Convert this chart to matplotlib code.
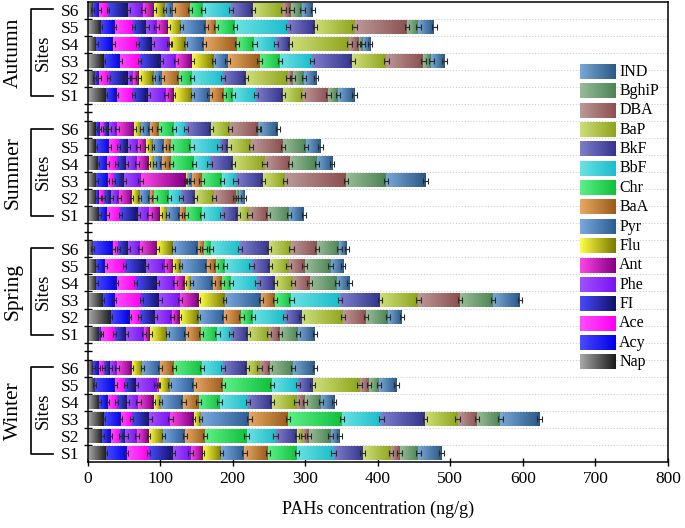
import numpy as np
import matplotlib
matplotlib.use("Agg")
import matplotlib.pyplot as plt
from matplotlib.colors import to_rgb
from matplotlib.transforms import blended_transform_factory

plt.rcParams["font.family"] = ["Liberation Serif", "DejaVu Serif"]

# ---------------------------------------------------------------------------
# Data (ng/g), order of compounds from bar start to bar end
# ---------------------------------------------------------------------------
compounds = ["Nap", "Acy", "Ace", "FI", "Phe", "Ant", "Flu", "Pyr",
             "BaA", "Chr", "BbF", "BkF", "BaP", "DBA", "BghiP", "IND"]
sites = ["S1", "S2", "S3", "S4", "S5", "S6"]
seasons = ["Winter", "Spring", "Summer", "Autumn"]

# rows: S1 .. S6
winter = [
    [25, 29, 30, 34, 24, 17, 25, 32, 33, 40, 50, 40, 39, 12, 26, 32],
    [20, 12, 13, 7, 16, 16, 20, 30, 28, 57, 40, 30, 8, 8, 30, 12],
    [22, 24, 15, 24, 29, 32, 10, 67, 53, 75, 54, 60, 45, 27, 32, 54],
    [16, 12, 12, 14, 16, 21, 10, 31, 21, 29, 39, 33, 34, 12, 22, 18],
    [10, 28, 14, 14, 29, 3, 15, 34, 40, 67, 36, 20, 65, 13, 14, 24],
    [8, 7, 7, 9, 9, 21, 14, 25, 19, 39, 29, 33, 17, 14, 32, 30],
]
spring = [
    [16, 3, 18, 16, 25, 8, 24, 26, 20, 23, 19, 23, 29, 15, 25, 23],
    [32, 26, 14, 21, 23, 11, 26, 35, 24, 16, 44, 23, 57, 32, 30, 19],
    [21, 16, 37, 25, 28, 26, 36, 50, 19, 23, 67, 55, 53, 57, 46, 37],
    [12, 28, 26, 29, 25, 14, 9, 30, 12, 13, 36, 24, 25, 23, 38, 17],
    [12, 12, 27, 29, 26, 12, 10, 37, 12, 12, 37, 25, 26, 22, 36, 17],
    [7, 28, 7, 14, 16, 24, 22, 34, 9, 9, 40, 40, 31, 35, 31, 11],
]
summer = [
    [16, 11, 18, 24, 16, 15, 10, 17, 9, 22, 27, 22, 16, 26, 29, 20],
    [12, 4, 6, 10, 11, 18, 11, 14, 6, 20, 17, 19, 26, 30, 4, 7],
    [12, 16, 8, 14, 23, 62, 3, 6, 13, 28, 19, 38, 30, 84, 55, 55],
    [14, 13, 13, 13, 15, 16, 8, 11, 12, 32, 21, 32, 44, 35, 37, 21],
    [11, 19, 13, 12, 14, 12, 9, 15, 10, 28, 39, 12, 31, 44, 32, 20],
    [11, 6, 6, 6, 11, 24, 10, 12, 12, 21, 17, 34, 26, 39, 1, 26],
]
autumn = [
    [25, 15, 23, 20, 25, 11, 25, 24, 20, 12, 32, 37, 28, 35, 13, 23],
    [10, 6, 13, 26, 8, 8, 20, 11, 24, 18, 43, 31, 58, 7, 15, 17],
    [22, 23, 27, 29, 21, 22, 30, 19, 44, 28, 44, 56, 47, 51, 11, 18],
    [12, 23, 34, 19, 24, 2, 21, 25, 46, 24, 30, 19, 82, 13, 5, 10],
    [18, 19, 26, 18, 14, 16, 18, 34, 14, 26, 73, 37, 55, 72, 16, 22],
    [7, 9, 12, 28, 20, 16, 14, 11, 24, 18, 39, 30, 42, 11, 15, 15],
]

# approximate standard deviations per compound
errors = [2, 2, 2, 3, 3, 2, 2, 3, 3, 3, 3, 3, 3, 3, 3, 3]

# gradient colours (light -> dark) for each compound
grad_colors = [
    ("#a8a8a8", "#1a1a1a"),  # Nap
    ("#4a4aff", "#0000e8"),  # Acy
    ("#ff4cff", "#ff00f0"),  # Ace
    ("#4a4aff", "#101068"),  # FI
    ("#a050ff", "#7a14f0"),  # Phe
    ("#ff44e8", "#800080"),  # Ant
    ("#ffff44", "#7a7a00"),  # Flu
    ("#78a8dc", "#2c5c94"),  # Pyr
    ("#e8a862", "#9a5c1c"),  # BaA
    ("#5cf088", "#10c03c"),  # Chr
    ("#6ae2e2", "#1cbccc"),  # BbF
    ("#7e7ecc", "#34348c"),  # BkF
    ("#cede78", "#8ea41c"),  # BaP
    ("#bc9898", "#8c5050"),  # DBA
    ("#98bc98", "#4c8454"),  # BghiP
    ("#78a8d8", "#2c5884"),  # IND
]

# ---------------------------------------------------------------------------
# Helpers
# ---------------------------------------------------------------------------

def gradient(c0, c1, n=48):
    a = np.array(to_rgb(c0))
    b = np.array(to_rgb(c1))
    t = np.linspace(0, 1, n)[:, None]
    return (a + (b - a) * t)[None, :, :]


fig, ax = plt.subplots(figsize=(6.85, 5.28), dpi=100)
fig.subplots_adjust(left=0.128, right=0.975, top=0.997, bottom=0.125)

bar_h = 0.78
season_data = [winter, spring, summer, autumn]
grads = [gradient(c0, c1) for c0, c1 in grad_colors]

ypos_all, ylab_all = [], []
for si, data in enumerate(season_data):
    for ri, row in enumerate(data):
        y = 1 + si * 7 + ri
        ypos_all.append(y)
        ylab_all.append(sites[ri])
        ends = np.cumsum(row)
        starts = ends - np.array(row)
        for k in range(len(compounds)):
            if row[k] <= 0:
                continue
            ax.imshow(grads[k], extent=(starts[k], ends[k], y - bar_h / 2, y + bar_h / 2),
                      aspect="auto", interpolation="bilinear", zorder=2)
        ax.errorbar(ends, [y] * len(ends), xerr=errors, fmt="none",
                    ecolor="#2a2a2a", elinewidth=0.8, capsize=2.5, capthick=0.8, zorder=3)

# legend drawn by hand (gradient swatches)
leg_x0, leg_x1, leg_tx = 678.6, 726.9, 732.8
leg_top, leg_step, leg_h = 23.39, 1.135, 0.86
for i, k in enumerate(range(len(compounds) - 1, -1, -1)):
    yy = leg_top - i * leg_step
    ax.imshow(grads[k], extent=(leg_x0, leg_x1, yy - leg_h / 2, yy + leg_h / 2),
              aspect="auto", interpolation="bilinear", zorder=4)
    ax.text(leg_tx, yy, compounds[k], fontsize=11.5, va="center", ha="left", zorder=4)

ax.set_xlim(0, 800)
ax.set_ylim(0.5, 27.5)
ax.set_xticks(np.arange(0, 801, 100))
ax.set_yticks(ypos_all)
ax.set_yticklabels(ylab_all)
grid_pos = np.arange(1.5, 27, 1)
tick_minor = sorted(list(grid_pos) + [7, 14, 21])
ax.set_yticks(tick_minor, minor=True)
ax.tick_params(axis="x", labelsize=12.5, direction="inout", length=6, width=1)
ax.tick_params(axis="y", which="major", labelsize=12.5, length=0, pad=6)
ax.tick_params(axis="y", which="minor", direction="inout", length=6, width=1)
for g in grid_pos:
    ax.axhline(g, linestyle=(0, (1.5, 2)), color="#c8c8c8", linewidth=0.6, zorder=0)
for sp in ax.spines.values():
    sp.set_linewidth(1.1)

ax.set_xlabel("PAHs concentration (ng/g)", fontsize=13, labelpad=10)

# season brackets
tr = blended_transform_factory(ax.transAxes, ax.transData)
for si, name in enumerate(seasons):
    y1 = 1 + si * 7
    y6 = y1 + 5
    ax.plot([-0.060, -0.097, -0.097, -0.060], [y6 + 0.05, y6 + 0.05, y1 - 0.05, y1 - 0.05],
            transform=tr, color="black", linewidth=1.2, clip_on=False)
    ax.text(-0.076, (y1 + y6) / 2, "Sites", transform=tr, rotation=90,
            ha="center", va="center", fontsize=13.5)
    ax.text(-0.128, (y1 + y6) / 2, name, transform=tr, rotation=90,
            ha="center", va="center", fontsize=15.5)

fig.savefig("out.png", dpi=100)
